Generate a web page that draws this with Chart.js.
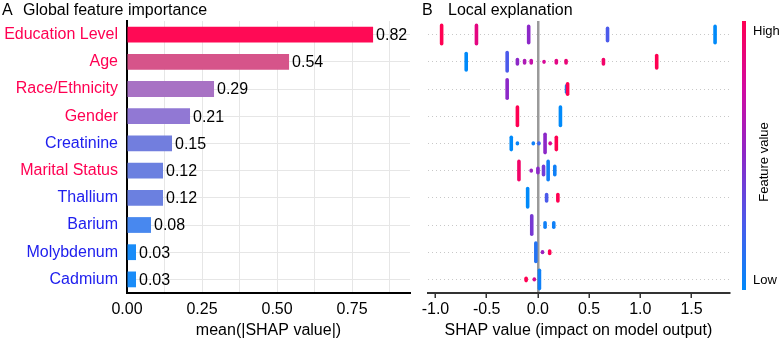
<!DOCTYPE html>
<html>
<head>
<meta charset="utf-8">
<script src="https://cdn.jsdelivr.net/npm/chart.js@4.4.1/dist/chart.umd.min.js"></script>
<style>
  html, body { margin: 0; padding: 0; background: #fff; }
  #wrap { position: relative; width: 782px; height: 341px; overflow: hidden; }
  #globalChart { position: absolute; left: 0; top: 0; }
  #localChart { position: absolute; left: 415px; top: 0; }
</style>
</head>
<body>
<div id="wrap">
  <canvas id="globalChart" width="420" height="341"></canvas>
  <canvas id="localChart" width="367" height="341"></canvas>
</div>
<script>
// features, ordered by importance
const features = ['Education Level', 'Age', 'Race/Ethnicity', 'Gender', 'Creatinine',
                  'Marital Status', 'Thallium', 'Barium', 'Molybdenum', 'Cadmium'];
const featureType = ['demographic', 'demographic', 'demographic', 'demographic', 'exposure',
                     'demographic', 'exposure', 'exposure', 'exposure', 'exposure'];
const meanAbsShap = [0.82, 0.54, 0.29, 0.21, 0.15, 0.12, 0.12, 0.08, 0.03, 0.03];

// local explanation: each entry is a stack of samples at one SHAP value
const localFeature = [0, 0, 0, 0, 0,
                      1, 1, 1, 1, 1, 1, 1, 1, 1, 1,
                      2, 2, 2,
                      3, 3,
                      4, 4, 4, 4, 4, 4, 4,
                      5, 5, 5, 5, 5, 5,
                      6, 6, 6,
                      7, 7, 7,
                      8, 8, 8,
                      9, 9, 9];
const localShap = [-0.94, -0.60, -0.09, 0.68, 1.73,
                   -0.70, -0.30, -0.20, -0.13, -0.065, 0.06, 0.18, 0.275, 0.64, 1.16,
                   -0.30, 0.28, 0.29,
                   -0.20, 0.22,
                   -0.26, -0.20, -0.045, 0.01, 0.07, 0.12, 0.18,
                   -0.185, -0.065, 0.0, 0.055, 0.10, 0.165,
                   -0.10, 0.085, 0.195,
                   -0.06, 0.07, 0.155,
                   -0.02, 0.045, 0.115,
                   -0.115, -0.035, 0.015];
const localFeatureValue = [1.0, 0.85, 0.5, 0.25, 0.0,
                           0.0, 0.25, 0.5, 0.62, 0.7, 0.78, 0.84, 0.88, 0.93, 1.0,
                           0.5, 0.03, 1.0,
                           1.0, 0.0,
                           0.0, 0.03, 0.05, 0.2, 0.5, 0.8, 1.0,
                           0.93, 0.55, 0.5, 0.4, 0.05, 0.05,
                           0.0, 0.25, 1.0,
                           0.42, 0.05, 0.05,
                           0.12, 0.55, 1.0,
                           1.0, 0.8, 0.05];
const localStack = [11, 11, 10, 8, 10,
                    10, 11, 4, 3, 3, 2, 3, 3, 4, 8,
                    11, 5, 7,
                    11, 11,
                    8, 1, 1, 2, 11, 1, 8,
                    11, 1, 4, 6, 11, 6,
                    11, 5, 5,
                    11, 4, 4,
                    11, 2, 3,
                    3, 2, 11];

const FONT = "'Liberation Sans', Arial, sans-serif";
Chart.defaults.font.family = FONT;
Chart.defaults.color = '#000';

const barColors = ['#ff0a55', '#d6548a', '#a872c4', '#9178d4', '#727ede',
                   '#6b80e0', '#6b80e0', '#4888ef', '#1a8cf8', '#1a8cf8'];
const typeColors = { demographic: '#ff0052', exposure: '#2020ee' };

const cmapStops = [[0, [0, 138, 250]], [0.25, [75, 90, 235]], [0.5, [140, 40, 200]],
                   [0.75, [210, 10, 160]], [1, [255, 0, 82]]];
function shapColor(t) {
  for (let i = 1; i < cmapStops.length; i++) {
    const [t1, c1] = cmapStops[i];
    const [t0, c0] = cmapStops[i - 1];
    if (t <= t1) {
      const f = (t - t0) / (t1 - t0);
      const c = c0.map((v, k) => Math.round(v + (c1[k] - v) * f));
      return `rgb(${c[0]},${c[1]},${c[2]})`;
    }
  }
  return 'rgb(255,0,82)';
}

function panelTitle(letter, text, xLetter, xText) {
  return {
    id: 'panelTitle',
    afterDraw(chart) {
      const ctx = chart.ctx;
      ctx.save();
      ctx.font = '16px ' + FONT;
      ctx.fillStyle = '#000';
      ctx.textBaseline = 'alphabetic';
      ctx.fillText(letter, xLetter, 15);
      ctx.fillText(text, xText, 15);
      ctx.restore();
    }
  };
}

const barValueLabels = {
  id: 'barValueLabels',
  afterDatasetsDraw(chart) {
    const ctx = chart.ctx;
    ctx.save();
    ctx.font = '16px ' + FONT;
    ctx.fillStyle = '#000';
    ctx.textBaseline = 'middle';
    chart.getDatasetMeta(0).data.forEach((bar, i) => {
      ctx.fillText(meanAbsShap[i].toFixed(2), bar.x + 3, bar.y + 1);
    });
    ctx.restore();
  }
};

new Chart(document.getElementById('globalChart'), {
  type: 'bar',
  data: {
    labels: features,
    datasets: [{
      data: meanAbsShap,
      backgroundColor: barColors,
      barPercentage: 0.58,
      categoryPercentage: 1
    }]
  },
  options: {
    indexAxis: 'y',
    responsive: false,
    animation: false,
    events: [],
    layout: { padding: { top: 21, right: 10, left: 0, bottom: 0 } },
    plugins: { legend: { display: false }, tooltip: { enabled: false } },
    scales: {
      x: {
        min: 0,
        max: 0.943,
        afterBuildTicks: s => {
          const t = [];
          for (let k = 0; k <= 7; k++) t.push({ value: k * 0.125 });
          s.ticks = t;
        },
        ticks: {
          autoSkip: false,
          maxRotation: 0,
          padding: 7,
          font: { size: 16 },
          callback: v => (Math.round(v * 8) % 2 === 0 ? v.toFixed(2) : '')
        },
        grid: { color: '#e6e6e6', lineWidth: 1, drawTicks: false },
        border: { color: '#000', width: 2 },
        title: { display: true, text: 'mean(|SHAP value|)', font: { size: 16 }, padding: { top: 0, bottom: 1 } },
        afterFit: s => { s.height = 48; }
      },
      y: {
        grid: { offset: false, color: '#e6e6e6', lineWidth: 1, drawTicks: false },
        border: { color: '#000', width: 2 },
        ticks: {
          padding: 9,
          font: { size: 16 },
          color: ctx => typeColors[featureType[ctx.index]]
        },
        afterFit: s => { s.width = 127; }
      }
    }
  },
  plugins: [barValueLabels, panelTitle('A', 'Global feature importance', 2, 23)]
});

const roundCaps = {
  id: 'roundCaps',
  beforeDatasetsDraw(chart) { chart.ctx.save(); chart.ctx.lineCap = 'round'; },
  afterDatasetsDraw(chart) { chart.ctx.restore(); }
};

const colorBar = {
  id: 'colorBar',
  afterDraw(chart) {
    const ctx = chart.ctx;
    const x = chart.chartArea.right + 15;
    const top = 21, bottom = 290;
    const g = ctx.createLinearGradient(0, bottom, 0, top);
    for (let k = 0; k <= 20; k++) g.addColorStop(k / 20, shapColor(k / 20));
    ctx.save();
    ctx.fillStyle = g;
    ctx.fillRect(x - 2, top, 4, bottom - top);
    ctx.fillStyle = '#000';
    ctx.font = '13px ' + FONT;
    ctx.textBaseline = 'middle';
    ctx.fillText('High', x + 9, 31);
    ctx.fillText('Low', x + 9, 280);
    ctx.translate(x + 20, 162);
    ctx.rotate(-Math.PI / 2);
    ctx.textAlign = 'center';
    ctx.fillText('Feature value', 0, 0);
    ctx.restore();
  }
};

new Chart(document.getElementById('localChart'), {
  type: 'scatter',
  data: {
    datasets: [{
      data: localShap.map((v, i) => ({ x: v, y: localFeature[i] })),
      pointStyle: 'line',
      rotation: 90,
      radius: ctx => Math.max(0.3, localStack[ctx.dataIndex] - 1.8),
      borderWidth: 3.6,
      borderColor: ctx => shapColor(localFeatureValue[ctx.dataIndex]),
      backgroundColor: ctx => shapColor(localFeatureValue[ctx.dataIndex])
    }]
  },
  options: {
    responsive: false,
    animation: false,
    events: [],
    layout: { padding: { top: 21, right: 53, left: 0, bottom: 0 } },
    plugins: { legend: { display: false }, tooltip: { enabled: false } },
    scales: {
      x: {
        type: 'linear',
        min: -1.075,
        max: 1.866,
        afterBuildTicks: s => {
          const t = [];
          for (let k = -2; k <= 3; k++) t.push({ value: k * 0.5 });
          s.ticks = t;
        },
        ticks: { autoSkip: false, maxRotation: 0, padding: 2, font: { size: 16 }, callback: v => v.toFixed(1) },
        grid: {
          color: ctx => (ctx.tick && ctx.tick.value === 0 ? '#9a9a9a' : 'rgba(0,0,0,0)'),
          lineWidth: 2.5,
          tickColor: '#333',
          tickWidth: 1.5,
          tickLength: 5
        },
        border: { color: '#333', width: 2 },
        title: { display: true, text: 'SHAP value (impact on model output)', font: { size: 16 }, padding: { top: 0, bottom: 1 } },
        afterFit: s => { s.height = 48; }
      },
      y: {
        type: 'linear',
        reverse: true,
        min: -0.5,
        max: 9.5,
        afterBuildTicks: s => { s.ticks = features.map((f, i) => ({ value: i })); },
        ticks: { display: false },
        grid: { color: '#c8c8c8', lineWidth: 1, drawTicks: false },
        border: { display: false, dash: [1, 3] },
        afterFit: s => { s.width = 12; }
      }
    }
  },
  plugins: [roundCaps, colorBar, panelTitle('B', 'Local explanation', 7, 33)]
});
</script>
</body>
</html>
